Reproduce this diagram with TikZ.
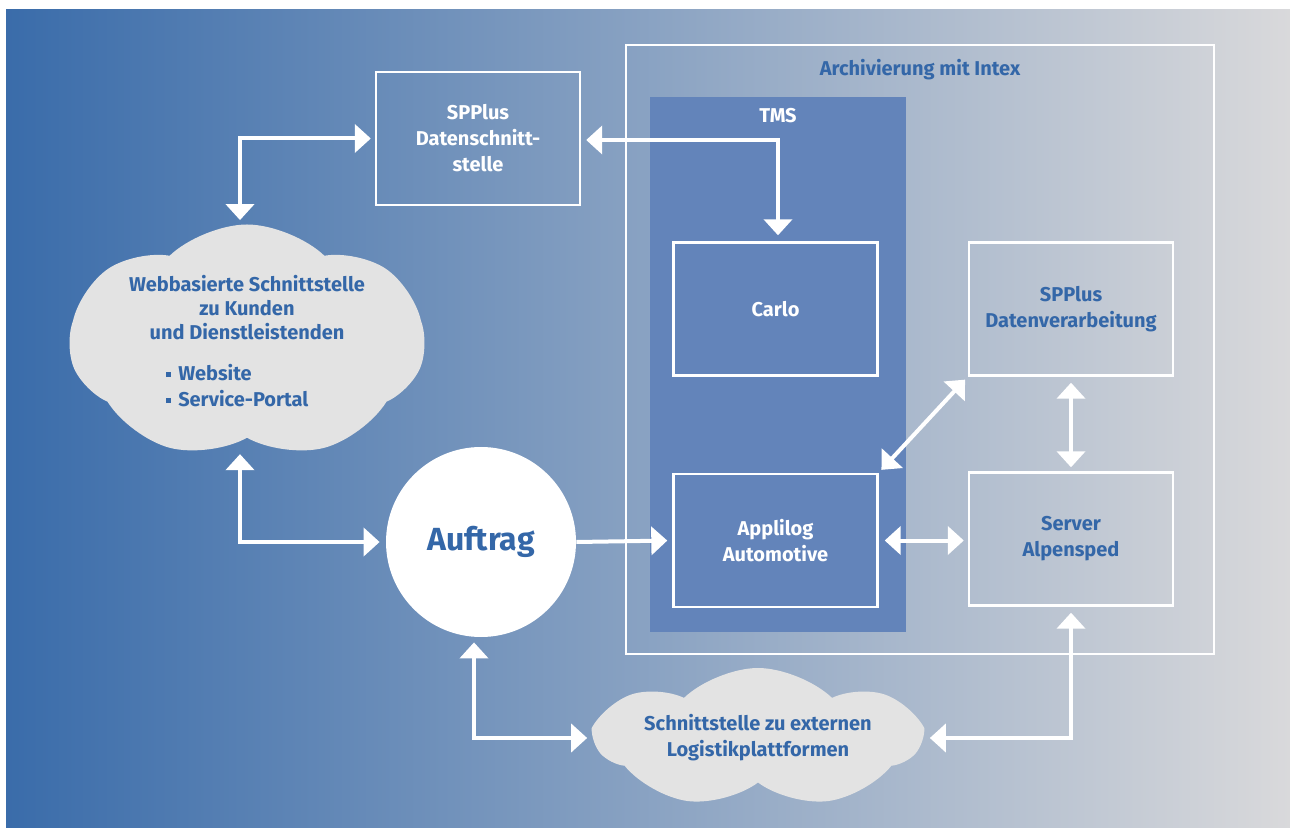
\documentclass[tikz,border=0pt]{standalone}
\usepackage{fontspec}
\setmainfont{Fira Sans}
\usepackage{tikz}
\usetikzlibrary{shapes.symbols,arrows.meta,calc}

\definecolor{bgleft}{RGB}{58,108,170}
\definecolor{bgright}{RGB}{217,217,219}
\definecolor{tmsblue}{RGB}{99,132,186}
\definecolor{textblue}{RGB}{52,103,168}
\definecolor{cloudgray}{RGB}{227,227,227}

\newcommand{\punkt}{\raisebox{1.9pt}{\rule{2.6pt}{2.6pt}}\hspace{3.5pt}}

\begin{document}
\begin{tikzpicture}[
    x=0.5pt, y=-0.5pt,
    label/.style={font=\bfseries\fontsize{10}{13}\selectfont, align=center},
    box/.style={rectangle, draw=white, line width=1.2pt, minimum width=102pt, minimum height=66.5pt, label},
    wolke/.style={cloud, cloud puffs=7, cloud puff arc=88, cloud ignores aspect, fill=cloudgray, inner sep=0pt},
    arrow/.style={-{Triangle[length=8pt,width=14pt]}, draw=white, line width=2pt},
    dblarrow/.style={{Triangle[length=8pt,width=14pt]}-{Triangle[length=8pt,width=14pt]}, draw=white, line width=2pt}
]
    \useasboundingbox (0,0) rectangle (1290,828);
    \shade[left color=bgleft, right color=bgright] (6,10) rectangle (1290,828);

    % Archiv und TMS
    \node[rectangle, draw=white, line width=1.2pt, minimum width=294pt, minimum height=304.5pt] (intex) at (920,349.5) {};
    \node[label, text=textblue] (intextitle) at (920,70) {Archivierung mit Intex};
    \node[rectangle, fill=tmsblue, minimum width=128pt, minimum height=267.5pt] (tms) at (778,364.5) {};
    \node[label, text=white] (tmstitle) at (778,116) {TMS};

    \node[box, text=white] (spd) at (478,138.5) {SPPlus\\Datenschnitt-\\stelle};
    \node[box, text=white] (carlo) at (775.5,309) {Carlo};
    \node[box, text=textblue] (spv) at (1071,309) {SPPlus\\Datenverarbeitung};
    \node[box, text=white] (appl) at (775.5,540.5) {Applilog\\Automotive};
    \node[box, text=textblue] (srv) at (1071,539) {Server\\Alpensped};

    \node[circle, fill=white, minimum size=95pt, font=\bfseries\fontsize{16}{19}\selectfont, text=textblue] (auftrag) at (481,542) {Auftrag};

    % Wolken
    \node[wolke, minimum width=177.5pt, minimum height=117.5pt] (web) at (247,342) {};
    \node[label, text=textblue, font=\bfseries\fontsize{10}{12}\selectfont] (webtitle) at (247,308) {Webbasierte Schnittstelle\\zu Kunden\\und Dienstleistenden};
    \node[label, text=textblue, align=left, anchor=west] (weblist) at (159,386)
        {\punkt Website\\\punkt Service-Portal};
    \node[wolke, minimum width=161.5pt, minimum height=70pt] (ext) at (758,738) {};
    \node[label, text=textblue] (exttitle) at (758,738) {Schnittstelle zu externen\\Logistikplattformen};

    \draw[dblarrow, shorten <=2pt, shorten >=2pt] ([xshift=-3.5pt]web.north) |- (spd.west);
    \draw[dblarrow, shorten <=2.5pt, shorten >=3pt] ([yshift=-0.75pt]spd.east) -| ([xshift=1.25pt]carlo.north);
    \draw[dblarrow, shorten >=3pt] ([xshift=-3.5pt, yshift=-8pt]web.south) |- (auftrag.west);
    \draw[arrow, shorten >=2.5pt] (auftrag.east) -- (appl.west);
    \draw[dblarrow, shorten <=3pt, shorten >=2pt] (appl.east) -- (appl.east -| srv.west);
    \draw[dblarrow, shorten <=2pt, shorten >=2pt] (appl.north east) -- (spv.south west);
    \draw[dblarrow, shorten <=3pt, shorten >=2pt] (spv.south) -- (srv.north);
    \draw[dblarrow, shorten <=2.5pt, shorten >=2.5pt] ([xshift=-3.5pt]auftrag.south) |- (ext.west);
    \draw[dblarrow, shorten <=3pt, shorten >=3pt] (ext.east) -| (srv.south);
\end{tikzpicture}
\end{document}
